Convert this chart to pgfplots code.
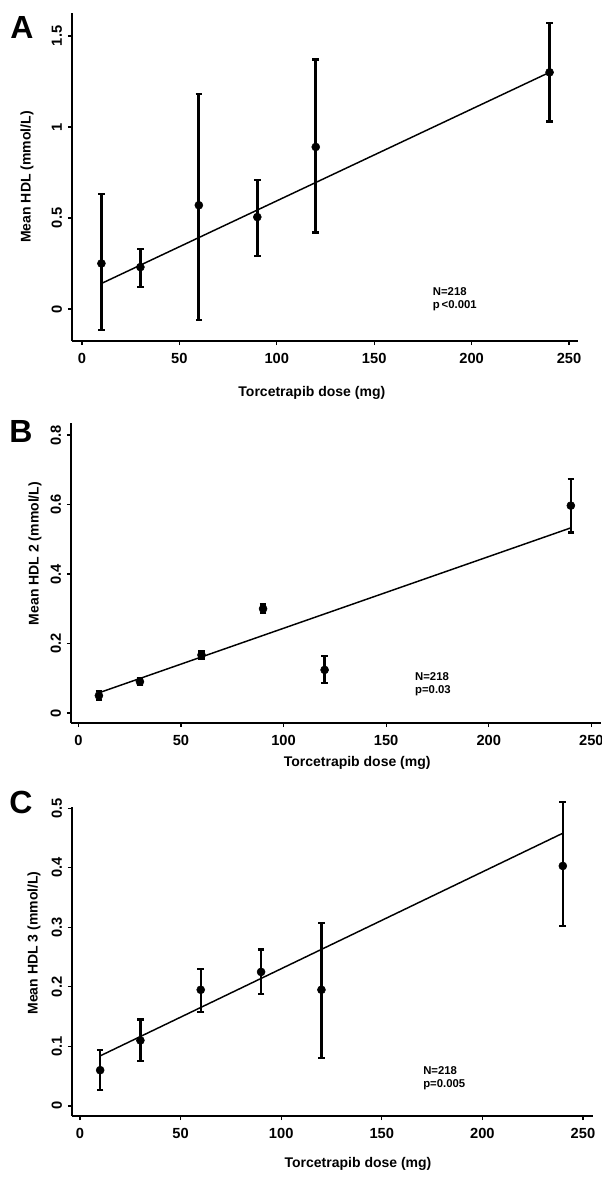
\documentclass[border=0pt]{standalone}
\usepackage{fontspec}
\setmainfont{Liberation Sans}
\usepackage{pgfplots}
\pgfplotsset{compat=1.18}

\newcommand{\labfont}{\bfseries\fontsize{10.5}{12}\selectfont}

\pgfplotsset{
  hdl/.style={
    scale only axis,
    anchor=north west,
    axis x line=bottom,
    axis y line=left,
    axis line style={-, line width=1.1pt},
    tick align=outside,
    major tick length=3pt,
    tick style={line width=1pt, black},
    xtick={0,50,100,150,200,250},
    /pgf/number format/assume math mode=true,
    tick label style={font=\bfseries\fontsize{11}{12}\selectfont},
    xticklabel style={yshift=-3pt},
    yticklabel style={rotate=90, anchor=south, yshift=1pt},
    every axis y label/.style={rotate=90, anchor=center, font=\labfont},
    every axis x label/.style={anchor=center, font=\labfont},
    clip=false,
  },
  pts/.style={
    only marks, mark=*, mark size=3pt, black,
    error bars/.cd, y dir=both, y explicit,
    error bar style={line width=#1, black},
    error mark options={rotate=90, mark size=2.5pt, line width=1.8pt, black},
  },
  fitline/.style={black, line width=1.1pt, no marks},
}
\tikzset{note/.style={anchor=west, align=left, font=\bfseries\fontsize{8.5}{9.5}\selectfont, inner sep=0pt}}

\begin{document}
\begin{tikzpicture}
\useasboundingbox (0,0) rectangle (451.5pt,-882.75pt);

% ---------- A ----------
\begin{axis}[hdl,
  at={(54pt,-9.75pt)}, width=379.5pt, height=246pt,
  xmin=-5.1, xmax=254.6, ymin=-0.176, ymax=1.626,
  ytick={0,0.5,1,1.5},
  yticklabels={0,0.5,1,1.5},
  xlabel={Torcetrapib dose (mg)},
  ylabel={Mean HDL (mmol/L)},
  xlabel style={at={(axis description cs:0.474,0)}, yshift=-39pt},
  ylabel style={at={(axis description cs:-0.089,0.5)}},
]
\addplot[pts=2.4pt] table[x=x, y=y, y error plus=ep, y error minus=em] {
x   y     ep    em
10  0.25  0.38  0.365
30  0.23  0.10  0.11
60  0.57  0.61  0.63
90  0.505 0.205 0.215
120 0.89  0.48  0.47
240 1.30  0.27  0.27
};
\addplot[fitline] coordinates {(10,0.14) (240,1.30)};
\node[note] at (axis cs:180,0.055) {N=218\\p\,<0.001};
\end{axis}

% ---------- B ----------
\begin{axis}[hdl,
  at={(53.25pt,-317.25pt)}, width=397.5pt, height=225pt,
  xmin=-3.6, xmax=254.7, ymin=-0.029, ymax=0.835,
  ytick={0,0.2,0.4,0.6,0.8},
  yticklabels={0,0.2,0.4,0.6,0.8},
  xlabel={Torcetrapib dose (mg)},
  ylabel={Mean HDL 2 (mmol/L)},
  xlabel style={at={(axis description cs:0.54,0)}, yshift=-30pt},
  ylabel style={at={(axis description cs:-0.068,0.565)}},
]
\addplot[pts=1.8pt] table[x=x, y=y, y error plus=ep, y error minus=em] {
x   y     ep    em
10  0.05  0.013 0.013
30  0.09  0.01  0.01
60  0.167 0.01  0.01
90  0.30  0.012 0.012
120 0.124 0.04  0.037
240 0.597 0.077 0.077
};
\addplot[fitline] coordinates {(10,0.058) (240,0.533)};
\node[note] at (axis cs:164,0.083) {N=218\\p=0.03};
\end{axis}

% ---------- C ----------
\begin{axis}[hdl,
  at={(54pt,-605.25pt)}, width=390.75pt, height=231.75pt,
  xmin=-4, xmax=255, ymin=-0.017, ymax=0.502,
  ytick={0,0.1,0.2,0.3,0.4,0.5},
  yticklabels={0,0.1,0.2,0.3,0.4,0.5},
  xlabel={Torcetrapib dose (mg)},
  ylabel={Mean HDL 3 (mmol/L)},
  xlabel style={at={(axis description cs:0.549,0)}, yshift=-36pt},
  ylabel style={at={(axis description cs:-0.073,0.56)}},
]
\addplot[pts=1.8pt] table[x=x, y=y, y error plus=ep, y error minus=em] {
x   y     ep    em
10  0.06  0.034 0.033
30  0.11  0.035 0.035
60  0.195 0.035 0.037
90  0.225 0.038 0.037
120 0.195 0.112 0.115
240 0.403 0.107 0.101
};
\addplot[fitline] coordinates {(10,0.084) (240,0.458)};
\node[note] at (axis cs:170.5,0.047) {N=218\\p=0.005};
\end{axis}

% panel letters
\node[font=\bfseries\fontsize{24}{24}\selectfont] at (16.5pt,-20.25pt) {A};
\node[font=\bfseries\fontsize{24}{24}\selectfont] at (15.75pt,-323.25pt) {B};
\node[font=\bfseries\fontsize{24}{24}\selectfont] at (15.75pt,-601.5pt) {C};
\end{tikzpicture}
\end{document}
